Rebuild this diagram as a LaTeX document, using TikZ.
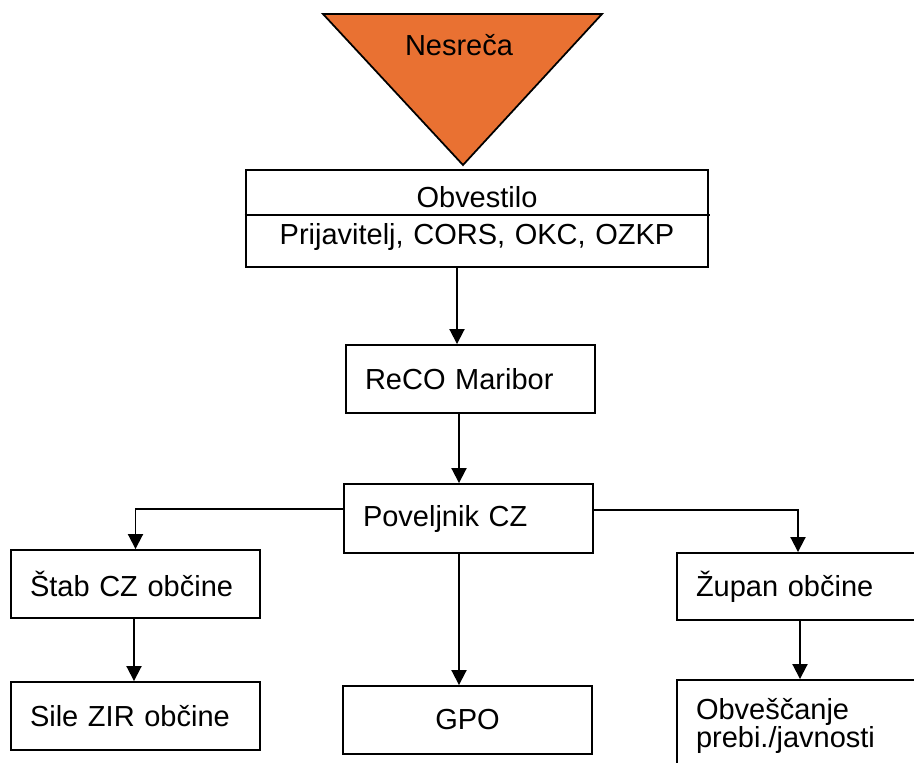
\documentclass[tikz,border=0pt]{standalone}
\usepackage{fontspec}
\setmainfont{Liberation Sans}
\usetikzlibrary{arrows.meta,positioning}
\definecolor{nesrecaorange}{HTML}{E97132}

\begin{document}
\begin{tikzpicture}[x=0.02cm, y=-0.02cm,
    box/.style={rectangle, draw=black, line width=1.1pt, minimum width=4.98cm, minimum height=1.36cm, text width=4.22cm, inner xsep=0.38cm, align=left, font=\fontsize{16.5}{20}\selectfont},
    centerbox/.style={box, align=center},
    arrow/.style={line width=1.1pt, -{Triangle[length=0.3cm, width=0.3cm]}}
  ]
    \useasboundingbox[fill=white] (0,0) rectangle (914,762);
    \clip (0,0) rectangle (914,762);

    % Nesreca
    \coordinate (t_left) at (323,14);
    \coordinate (t_right) at (602,14);
    \coordinate (t_tip) at (463,165);
    \draw[fill=nesrecaorange, line width=1pt] (t_left) -- (t_right) -- (t_tip) -- cycle;
    \node (nesreca) at (459,45) [font=\fontsize{16.5}{20}\selectfont] {Nesreča};

    % Obvestilo
    \node (obv) at (477,218.5) [centerbox, minimum width=9.2cm, minimum height=1.94cm, text width=8.5cm, font=\fontsize{16.5}{21.6}\selectfont] {Obvestilo\\ Prijavitelj, CORS, OKC, OZKP};
    \draw[line width=1.1pt] (obv.west |- 0,215) -- (710,215);

    % Chain
    \node (reco) at (470.5,379) [box] {ReCO Maribor};
    \node (pov) at (468.5,518.5) [box, minimum height=1.38cm] {Poveljnik CZ};
    \node (stab) at (135.5,584) [box] {Štab CZ občine};
    \node (sile) at (135.5,716) [box] {Sile ZIR občine};
    \node (gpo) at (467.5,720) [centerbox] {GPO};
    \node (zup) at (801.5,586.5) [box, minimum height=1.34cm] {Župan občine};
    \node (obs) at (801.5,726) [box, minimum height=1.84cm, font=\fontsize{16.5}{16}\selectfont] {Obveščanje\\ prebi./javnosti};

    \draw[arrow] (obv.south -| 457,0) -- (reco.north -| 457,0);
    \draw[arrow] (reco.south -| 459,0) -- (pov.north -| 459,0);
    \draw[arrow] (pov.west |- 0,509) -| (stab.north);
    \draw[arrow] (pov.east |- 0,510) -| (zup.north -| 798,0);
    \draw[arrow] (pov.south -| 459,0) -- (gpo.north -| 459,0);
    \draw[arrow] (stab.south -| 134,0) -- (sile.north -| 134,0);
    \draw[arrow] (zup.south -| 800,0) -- (obs.north -| 800,0);

  \end{tikzpicture}
\end{document}
